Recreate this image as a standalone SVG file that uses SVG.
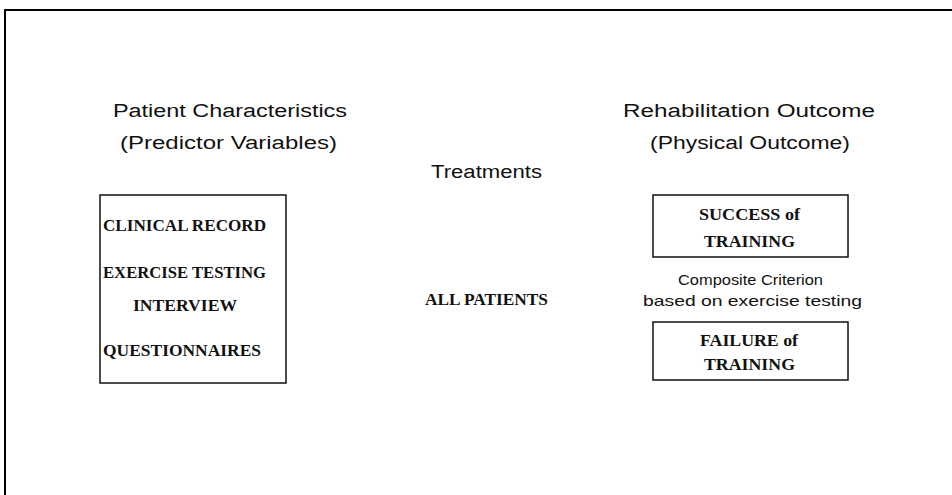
<svg xmlns="http://www.w3.org/2000/svg" width="952" height="495" viewBox="0 0 952 495">
  <style>
    .frame { fill: none; stroke: #000; stroke-width: 2; }
    .box { fill: none; stroke: #111; stroke-width: 1.5; }
    .head { font-family: "Liberation Sans", "DejaVu Sans", sans-serif; font-size: 18px; fill: #111; }
    .note { font-family: "Liberation Sans", "DejaVu Sans", sans-serif; font-size: 15px; fill: #111; }
    .item { font-family: "Liberation Serif", "DejaVu Serif", serif; font-size: 16px; font-weight: bold; fill: #111; }
  </style>

  <!-- page frame: top and left edges -->
  <path class="frame" d="M952,10 H5 V495"/>

  <!-- column headings -->
  <g id="heading-patient">
    <text class="head" x="113" y="117" textLength="234" lengthAdjust="spacingAndGlyphs">Patient Characteristics</text>
    <text class="head" x="120" y="149" textLength="217" lengthAdjust="spacingAndGlyphs">(Predictor Variables)</text>
  </g>
  <g id="heading-treatments">
    <text class="head" x="431" y="178" textLength="111" lengthAdjust="spacingAndGlyphs">Treatments</text>
  </g>
  <g id="heading-outcome">
    <text class="head" x="623" y="117" textLength="252" lengthAdjust="spacingAndGlyphs">Rehabilitation Outcome</text>
    <text class="head" x="650" y="149" textLength="200" lengthAdjust="spacingAndGlyphs">(Physical Outcome)</text>
  </g>

  <!-- predictor variables -->
  <g id="predictors">
    <rect class="box" x="100" y="195" width="186" height="188"/>
    <text class="item" x="103" y="231" textLength="163" lengthAdjust="spacingAndGlyphs">CLINICAL RECORD</text>
    <text class="item" x="103" y="278" textLength="163" lengthAdjust="spacingAndGlyphs">EXERCISE TESTING</text>
    <text class="item" x="133" y="311" textLength="104" lengthAdjust="spacingAndGlyphs">INTERVIEW</text>
    <text class="item" x="103" y="356" textLength="158" lengthAdjust="spacingAndGlyphs">QUESTIONNAIRES</text>
  </g>

  <!-- treatment group -->
  <g id="all-patients">
    <text class="item" x="425" y="305" textLength="123" lengthAdjust="spacingAndGlyphs">ALL PATIENTS</text>
  </g>

  <!-- outcomes -->
  <g id="success">
    <rect class="box" x="653" y="195" width="195" height="62"/>
    <text class="item" x="699" y="220" textLength="101" lengthAdjust="spacingAndGlyphs">SUCCESS of</text>
    <text class="item" x="704" y="247" textLength="91" lengthAdjust="spacingAndGlyphs">TRAINING</text>
  </g>
  <g id="criterion">
    <text class="note" x="678" y="285" textLength="145" lengthAdjust="spacingAndGlyphs">Composite Criterion</text>
    <text class="note" x="643" y="306" textLength="219" lengthAdjust="spacingAndGlyphs">based on exercise testing</text>
  </g>
  <g id="failure">
    <rect class="box" x="653" y="322" width="195" height="58"/>
    <text class="item" x="700" y="346" textLength="98" lengthAdjust="spacingAndGlyphs">FAILURE of</text>
    <text class="item" x="704" y="370" textLength="91" lengthAdjust="spacingAndGlyphs">TRAINING</text>
  </g>

  <!-- no connectors are drawn between the columns -->
  <g id="connectors"/>
</svg>
